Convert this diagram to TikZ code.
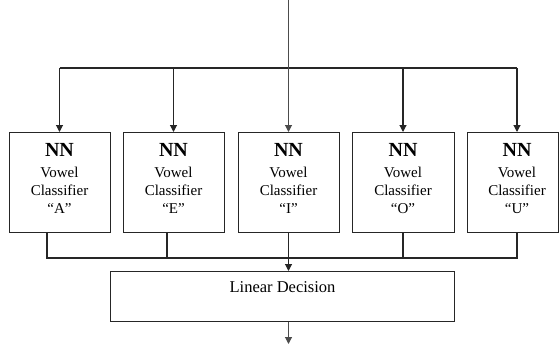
\documentclass[tikz,border=0pt]{standalone}
\usepackage{fontspec}
\setmainfont{Liberation Serif}
\usetikzlibrary{arrows.meta}
\begin{document}
\begin{tikzpicture}[x=1pt,y=-1pt,
  wire/.style={line width=1.1pt,draw=black!85},
  arr/.style={wire,-{Triangle[length=7pt,width=7pt]}},
  vbox/.style={draw=black!85,line width=1.1pt,minimum height=100pt,
    anchor=north west,inner sep=0pt},
  lbl/.style={align=center,font=\fontsize{15}{18}\selectfont}]
\useasboundingbox (0,0) rectangle (560,348);
% classifier boxes: name / left edge / width / centre line / vowel
\foreach \nm/\xx/\w/\cx/\v in {a/9/101/59.5/A,e/123/101/173.5/E,i/238/101/288.5/I,o/352/102/403/O,u/467/91/517/U}{
  \node[vbox,minimum width=\w pt] (\nm) at (\xx,132) {};
  \coordinate (\nm c) at (\cx,132);
  \node[font=\fontsize{20}{20}\selectfont\bfseries] at (\cx,150) {NN};
  \node[lbl,anchor=north] at (\cx,164) {Vowel\\Classifier\\“\v”};
}
% decision box
\node[draw=black!85,line width=1.1pt,minimum width=344pt,minimum height=50pt,
  anchor=north west,inner sep=0pt] (dec) at (110,271) {};
\node[font=\fontsize{16.5}{18}\selectfont] at ([yshift=-16pt]dec.north) {Linear Decision};
% input and distribution bus
\coordinate (in) at (288.5,0);
\draw[wire] (ac |- 0,68) -- (uc |- 0,68);
\draw[arr,draw=black!70] (in) -- (ic);
\foreach \nm in {a,e,o,u}
  \draw[arr] (\nm c |- 0,68) -- (\nm c);
% collecting bus
\coordinate (ca) at (47,232);
\coordinate (ce) at (167,232);
\coordinate (co) at (403,232);
\coordinate (cu) at (517,232);
\coordinate (ci) at (288.5,232);
\draw[wire] (ca) -- (ca |- 0,258) -- (cu |- 0,258) -- (cu);
\draw[wire] (ce) -- (ce |- 0,258);
\draw[wire] (co) -- (co |- 0,258);
\draw[arr] (ci) -- (dec.north -| ci);
% output
\coordinate (out) at (288.5,344);
\draw[arr,draw=black!70] (dec.south -| out) -- (out);
\end{tikzpicture}
\end{document}
